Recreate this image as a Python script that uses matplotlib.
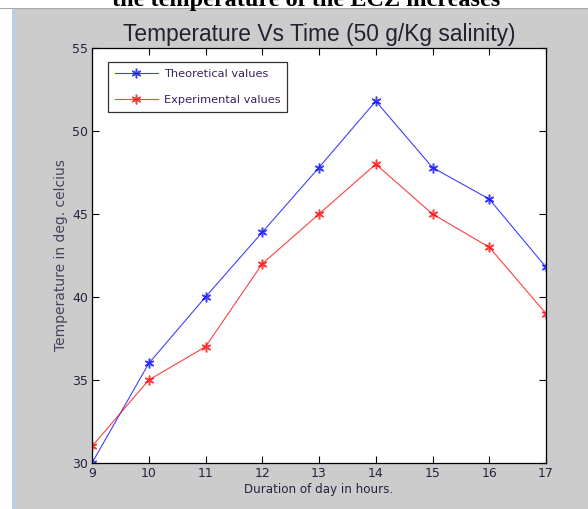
import matplotlib.pyplot as plt
from matplotlib.patches import Rectangle

# Data
hours = [9, 10, 11, 12, 13, 14, 15, 16, 17]
theoretical = [30, 36, 40, 43.9, 47.8, 51.8, 47.8, 45.9, 41.8]
experimental = [31, 35, 37, 42, 45, 48, 45, 43, 39]
yticks = [30, 35, 40, 45, 50, 55]

fig = plt.figure(figsize=(5.88, 5.09), dpi=100)
fig.patch.set_facecolor('#cccccc')

# white strip at the top with the clipped caption from the page, light blue edge on left
fig.add_artist(Rectangle((0, 1 - 8 / 509), 1, 8 / 509, transform=fig.transFigure,
                         facecolor='white', edgecolor='none', zorder=0))
fig.add_artist(Rectangle((0, 0), 12 / 588, 1, transform=fig.transFigure,
                         facecolor='white', edgecolor='none', zorder=0))
fig.add_artist(Rectangle((12 / 588, 0), 3 / 588, 1 - 8 / 509, transform=fig.transFigure,
                         facecolor='#b8cfe8', edgecolor='none', zorder=0))
fig.add_artist(Rectangle((0, 1 - 9 / 509), 1, 1.2 / 509, transform=fig.transFigure,
                         facecolor='#a8a8a8', edgecolor='none', zorder=1))
fig.text(0.521, 1 - 6 / 509, 'the temperature of the ECZ increases', ha='center', va='baseline',
         fontsize=17.5, fontweight='bold', family='Liberation Serif', color='black')

ax = fig.add_axes([92 / 588, 1 - 463 / 509, (546 - 92) / 588, (463 - 48) / 509])
ax.set_facecolor('white')

star = (6, 2, 0)
ax.plot(hours, theoretical, color='blue', marker=star, markersize=7, markeredgewidth=1.1,
        linewidth=0.8, alpha=0.75, label='Theoretical values')
ax.plot(hours, experimental, color='red', marker=star, markersize=7, markeredgewidth=1.1,
        linewidth=0.8, alpha=0.75, label='Experimental values')

ax.set_xlim(9, 17)
ax.set_ylim(30, 55)
ax.set_xticks(hours)
ax.set_yticks(yticks)
ax.tick_params(direction='in', top=True, right=True, length=5, labelsize=9,
               labelcolor='#2a2040', pad=3)
for s in ax.spines.values():
    s.set_linewidth(0.9)

ax.set_title('Temperature Vs Time (50 g/Kg salinity)', fontsize=16.4,
             family='Liberation Sans', color='#222230', pad=5)
ax.set_xlabel('Duration of day in hours.', fontsize=8.6, color='#2a2040', labelpad=2)
ax.set_ylabel('Temperature in deg. celcius', fontsize=10, color='#4a4060', labelpad=3)

leg = ax.legend(loc='upper left', bbox_to_anchor=(0.035, 0.966), borderaxespad=0,
                fontsize=8.2, fancybox=False, framealpha=1, edgecolor='#333333',
                borderpad=0.6, handlelength=3.8, handletextpad=0.5, labelspacing=1.4)
leg.get_frame().set_linewidth(0.9)
for t in leg.get_texts():
    t.set_color('#3a2060')

fig.savefig('out.png', dpi=100, facecolor=fig.get_facecolor())
